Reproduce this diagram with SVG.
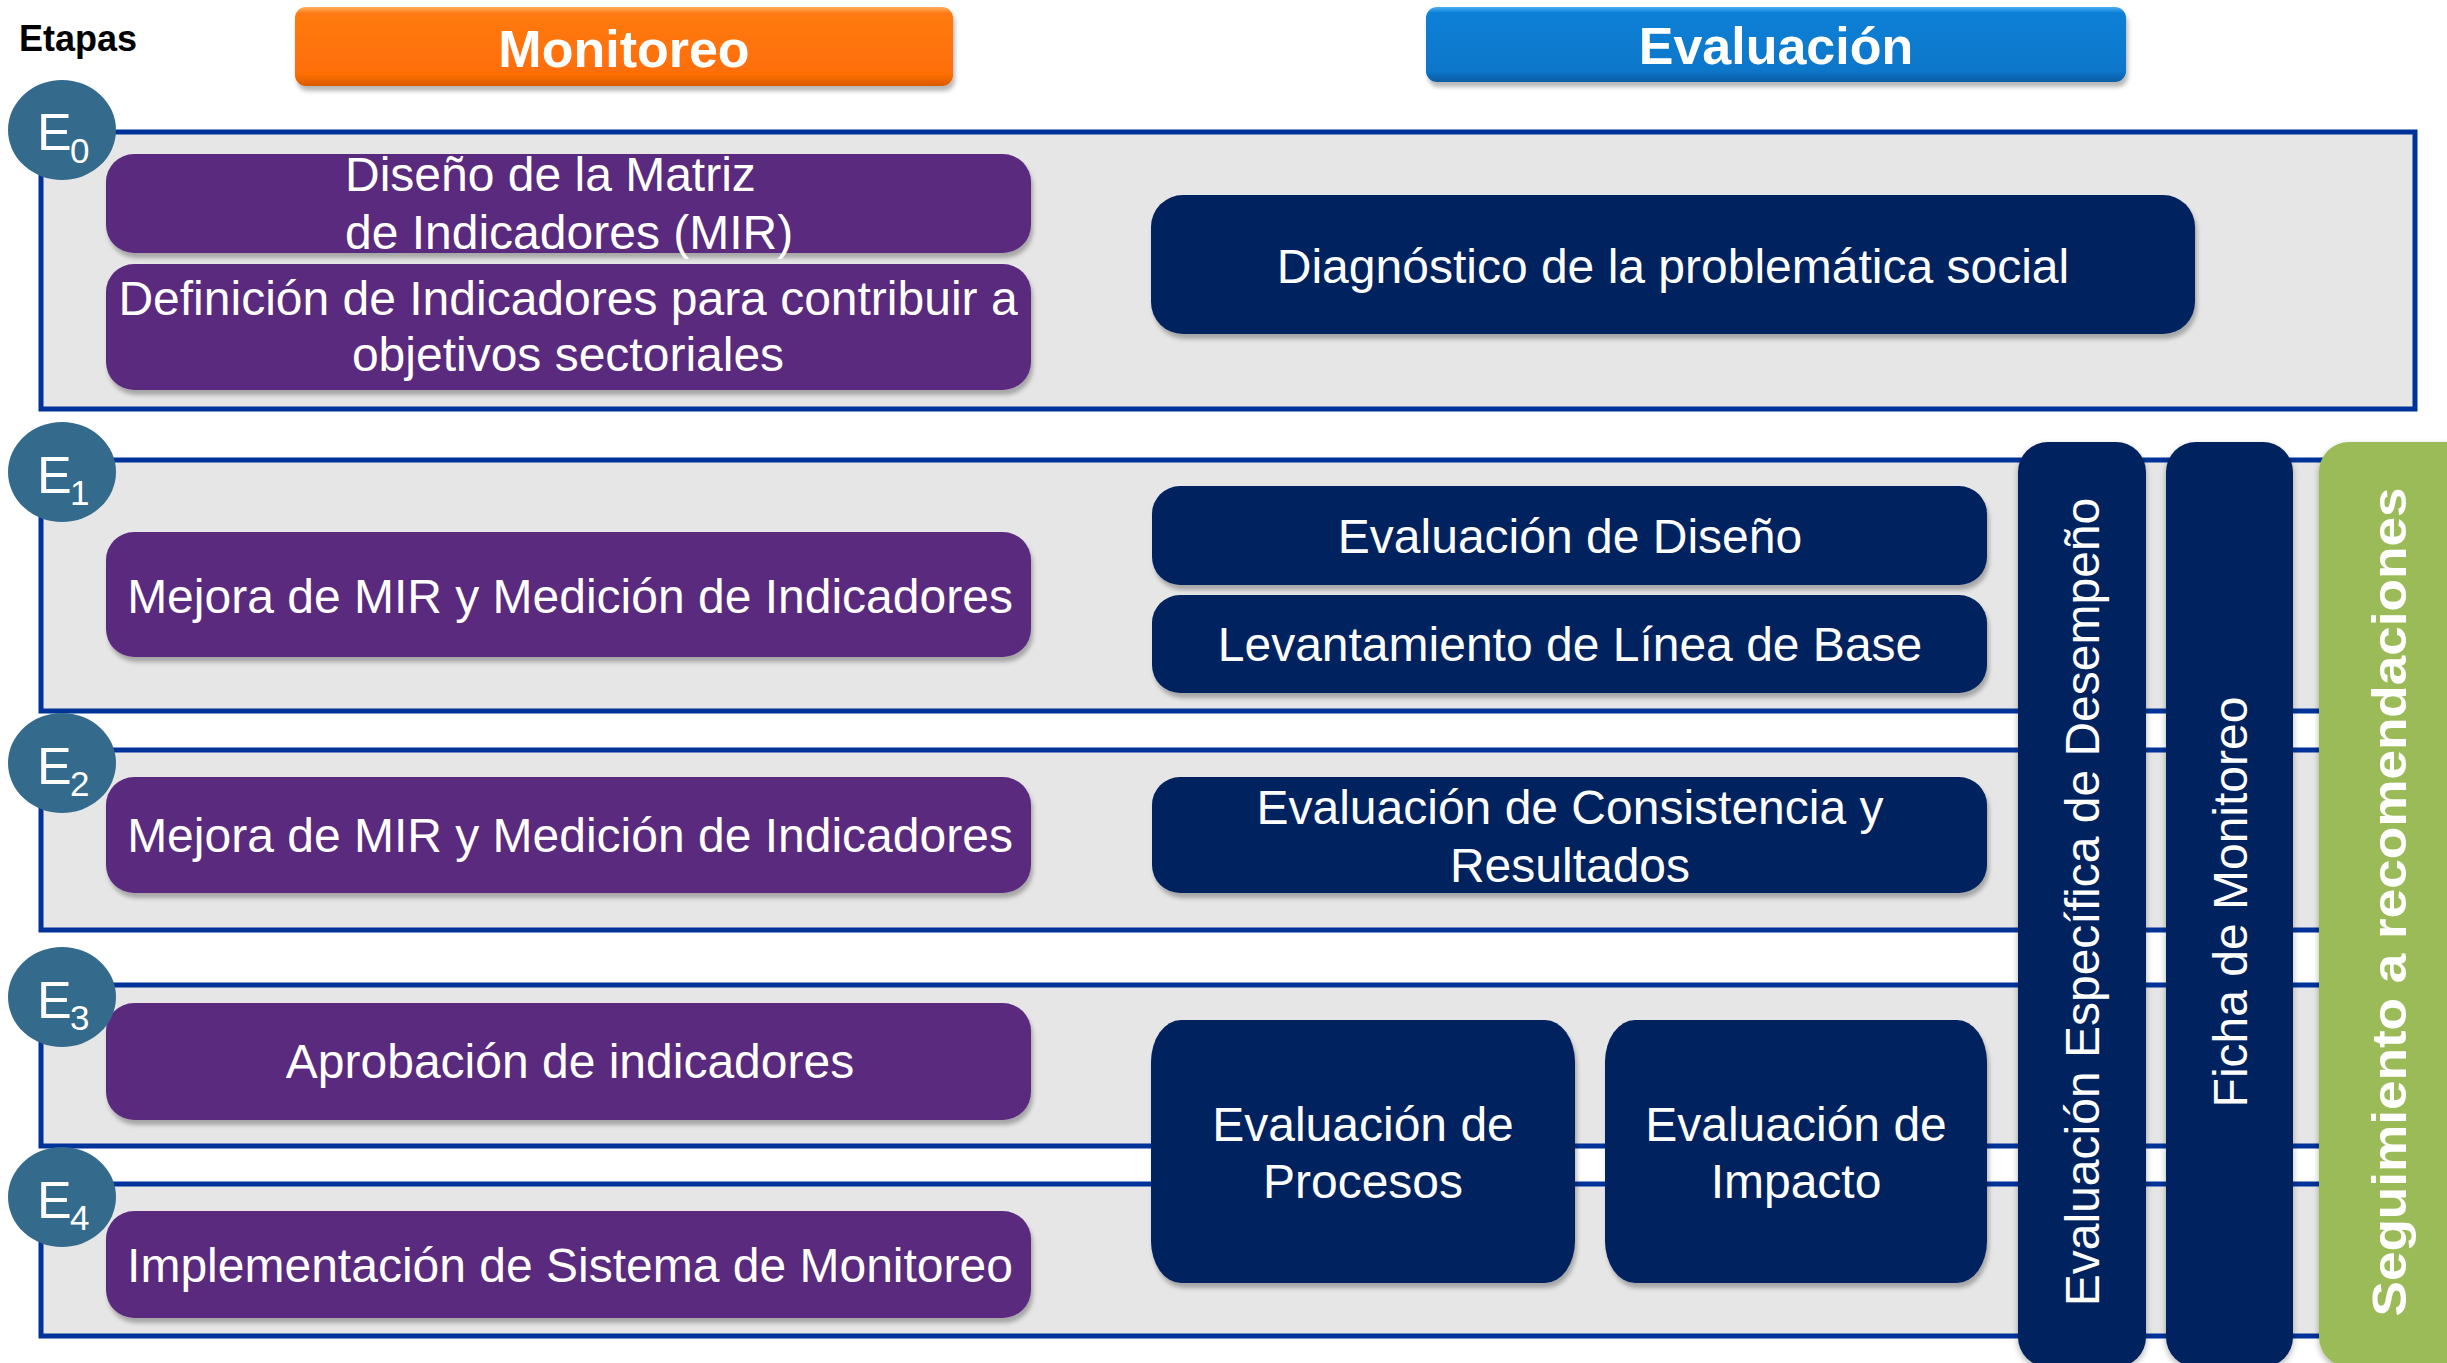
<svg xmlns="http://www.w3.org/2000/svg" width="2447" height="1363" viewBox="0 0 2447 1363">
<defs>
<linearGradient id="gOrange" x1="0" y1="0" x2="0" y2="1">
<stop offset="0" stop-color="#FFB060"/>
<stop offset="0.08" stop-color="#FF7A12"/>
<stop offset="0.85" stop-color="#FF6E06"/>
<stop offset="1" stop-color="#D85A00"/>
</linearGradient>
<linearGradient id="gBlue" x1="0" y1="0" x2="0" y2="1">
<stop offset="0" stop-color="#4AB0F5"/>
<stop offset="0.08" stop-color="#0A80D6"/>
<stop offset="0.85" stop-color="#0777CA"/>
<stop offset="1" stop-color="#0A5CA4"/>
</linearGradient>
<filter id="sh" x="-5%" y="-10%" width="110%" height="130%">
<feDropShadow dx="2" dy="5" stdDeviation="2" flood-color="#000" flood-opacity="0.28"/>
</filter>
<filter id="shp" x="-20%" y="-5%" width="140%" height="110%">
<feDropShadow dx="0" dy="3" stdDeviation="3" flood-color="#000" flood-opacity="0.3"/>
</filter>
</defs>
<style>
.frame{fill:#E6E6E6;stroke:#003399;stroke-width:5}
.purple{fill:#5A2A7E}
.navy{fill:#02215E}
.circ{fill:#346B8C}
.t{font-family:"Liberation Sans",Arial,sans-serif;font-size:48px;fill:#FFFFFF;text-anchor:middle}
.tl{font-family:"Liberation Sans",Arial,sans-serif;font-size:48px;fill:#FFFFFF}
.hd{font-family:"Liberation Sans",Arial,sans-serif;font-size:52px;font-weight:bold;fill:#FFFFFF;text-anchor:middle}
.e{font-family:"Liberation Sans",Arial,sans-serif;font-size:52px;fill:#FFFFFF}
.sub{font-family:"Liberation Sans",Arial,sans-serif;font-size:35px;fill:#FFFFFF}
</style>
<rect width="2447" height="1363" fill="#FFFFFF"/>

<text x="19" y="51" font-family="Liberation Sans, Arial, sans-serif" font-size="36" font-weight="bold" fill="#000">Etapas</text>

<g id="header-monitoreo">
<rect x="295" y="7" width="658" height="79" rx="11" fill="url(#gOrange)" filter="url(#sh)"/>
<text class="hd" x="624" y="67">Monitoreo</text>
</g>
<g id="header-evaluacion">
<rect x="1426" y="7" width="700" height="75" rx="11" fill="url(#gBlue)" filter="url(#sh)"/>
<text class="hd" x="1776" y="64">Evaluación</text>
</g>

<g id="frames">
<rect id="frame-e0" class="frame" x="41" y="132" width="2374" height="277"/>
<rect id="frame-e1" class="frame" x="41" y="460" width="2374" height="251"/>
<rect id="frame-e2" class="frame" x="41" y="750" width="2374" height="180"/>
<rect id="frame-e3" class="frame" x="41" y="985" width="2374" height="161"/>
<rect id="frame-e4" class="frame" x="41" y="1184" width="2374" height="152"/>
</g>

<g id="connectors"></g>

<g id="m-e0-diseno">
<rect class="purple" x="106" y="154" width="925" height="99" rx="28" filter="url(#sh)"/>
<text class="tl" x="345" y="191">Diseño de la Matriz</text>
<text class="tl" x="345" y="249">de Indicadores (MIR)</text>
</g>
<g id="m-e0-definicion">
<rect class="purple" x="106" y="264" width="925" height="126" rx="28" filter="url(#sh)"/>
<text class="t" x="568" y="315">Definición de Indicadores para contribuir a</text>
<text class="t" x="568" y="371">objetivos sectoriales</text>
</g>
<g id="m-e1">
<rect class="purple" x="106" y="532" width="925" height="125" rx="28" filter="url(#sh)"/>
<text class="t" x="570" y="613">Mejora de MIR y Medición de Indicadores</text>
</g>
<g id="m-e2">
<rect class="purple" x="106" y="777" width="925" height="116" rx="28" filter="url(#sh)"/>
<text class="t" x="570" y="852">Mejora de MIR y Medición de Indicadores</text>
</g>
<g id="m-e3">
<rect class="purple" x="106" y="1003" width="925" height="117" rx="28" filter="url(#sh)"/>
<text class="t" x="570" y="1078">Aprobación de indicadores</text>
</g>
<g id="m-e4">
<rect class="purple" x="106" y="1211" width="925" height="107" rx="28" filter="url(#sh)"/>
<text class="t" x="570" y="1282">Implementación de Sistema de Monitoreo</text>
</g>

<g id="ev-diagnostico">
<rect class="navy" x="1151" y="195" width="1044" height="139" rx="32" filter="url(#sh)"/>
<text class="t" x="1673" y="283">Diagnóstico de la problemática social</text>
</g>
<g id="ev-diseno">
<rect class="navy" x="1152" y="486" width="835" height="99" rx="28" filter="url(#sh)"/>
<text class="t" x="1570" y="553">Evaluación de Diseño</text>
</g>
<g id="ev-linea-base">
<rect class="navy" x="1152" y="595" width="835" height="98" rx="28" filter="url(#sh)"/>
<text class="t" x="1570" y="661">Levantamiento de Línea de Base</text>
</g>
<g id="ev-consistencia">
<rect class="navy" x="1152" y="777" width="835" height="116" rx="28" filter="url(#sh)"/>
<text class="t" x="1570" y="824">Evaluación de Consistencia y</text>
<text class="t" x="1570" y="882">Resultados</text>
</g>
<g id="ev-procesos">
<rect class="navy" x="1151" y="1020" width="424" height="263" rx="30" ry="42" filter="url(#sh)"/>
<text class="t" x="1363" y="1141">Evaluación de</text>
<text class="t" x="1363" y="1198">Procesos</text>
</g>
<g id="ev-impacto">
<rect class="navy" x="1605" y="1020" width="382" height="263" rx="30" ry="42" filter="url(#sh)"/>
<text class="t" x="1796" y="1141">Evaluación de</text>
<text class="t" x="1796" y="1198">Impacto</text>
</g>

<g id="ev-especifica">
<rect class="navy" x="2018" y="442" width="128" height="925" rx="30" filter="url(#shp)"/>
<text class="t" transform="translate(2099,902) rotate(-90)">Evaluación Específica de Desempeño</text>
</g>
<g id="ev-ficha">
<rect class="navy" x="2166" y="442" width="127" height="925" rx="30" filter="url(#shp)"/>
<text class="t" transform="translate(2247,902) rotate(-90)">Ficha de Monitoreo</text>
</g>
<g id="seguimiento">
<rect x="2319" y="442" width="160" height="925" rx="30" fill="#9BBB59" filter="url(#shp)"/>
<text class="t" font-weight="bold" font-size="57" textLength="829" lengthAdjust="spacingAndGlyphs" transform="translate(2406,902) rotate(-90)">Seguimiento a recomendaciones</text>
</g>

<g id="stage-e0">
<ellipse class="circ" cx="62" cy="130" rx="54" ry="50"/>
<text class="e" x="37" y="150">E</text><text class="sub" x="70" y="163">0</text>
</g>
<g id="stage-e1">
<ellipse class="circ" cx="62" cy="472" rx="54" ry="50"/>
<text class="e" x="37" y="493">E</text><text class="sub" x="70" y="505">1</text>
</g>
<g id="stage-e2">
<ellipse class="circ" cx="62" cy="763" rx="54" ry="50"/>
<text class="e" x="37" y="784">E</text><text class="sub" x="70" y="796">2</text>
</g>
<g id="stage-e3">
<ellipse class="circ" cx="62" cy="997" rx="54" ry="50"/>
<text class="e" x="37" y="1018">E</text><text class="sub" x="70" y="1030">3</text>
</g>
<g id="stage-e4">
<ellipse class="circ" cx="62" cy="1197" rx="54" ry="50"/>
<text class="e" x="37" y="1218">E</text><text class="sub" x="70" y="1230">4</text>
</g>
</svg>
